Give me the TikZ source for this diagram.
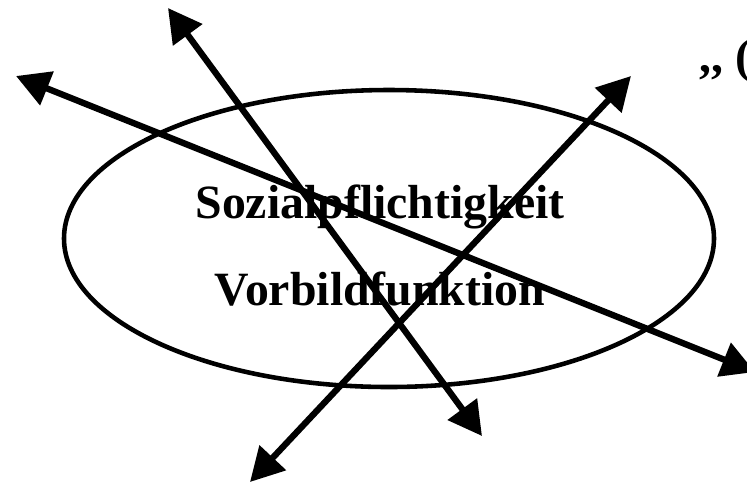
\documentclass[tikz,border=0pt]{standalone}
\usepackage{fontspec}
\setmainfont{Liberation Serif}
\usetikzlibrary{arrows.meta,positioning}
\tikzset{
  bolt/.style={{Triangle[length=19pt,width=20pt]}-{Triangle[length=19pt,width=20pt]}, line width=3.6pt, black},
  ring/.style={draw=black, line width=2.6pt},
  word/.style={font=\fontsize{27.2}{32}\selectfont\bfseries, anchor=base}
}

\begin{document}
\begin{tikzpicture}[x=0.02cm,y=-0.02cm]
  \useasboundingbox (0,0) rectangle (747,485);
  \clip (0,0) rectangle (747,485);
  \draw[ring] (389,238.5) ellipse [x radius=325, y radius=148.5];
  \node[word] (sozial) at (380,218) {Sozialpflichtigkeit};
  \node[word] (vorbild) at (380,305) {Vorbildfunktion};
  \node[word, anchor=base west, inner sep=0pt] (quote) at (699,72) {{,}{,}\kern6.8pt(};
  % arrow ends
  \coordinate (westend) at (16,76);
  \coordinate (eastend) at (755,372);
  \coordinate (topend) at (168,8);
  \coordinate (downend) at (482,436);
  \coordinate (lowend) at (250,482);
  \coordinate (upend) at (631,76);
  \draw[bolt] (westend) -- (eastend);
  \draw[bolt] (topend) -- (downend);
  \draw[bolt] (lowend) -- (upend);
\end{tikzpicture}
\end{document}
